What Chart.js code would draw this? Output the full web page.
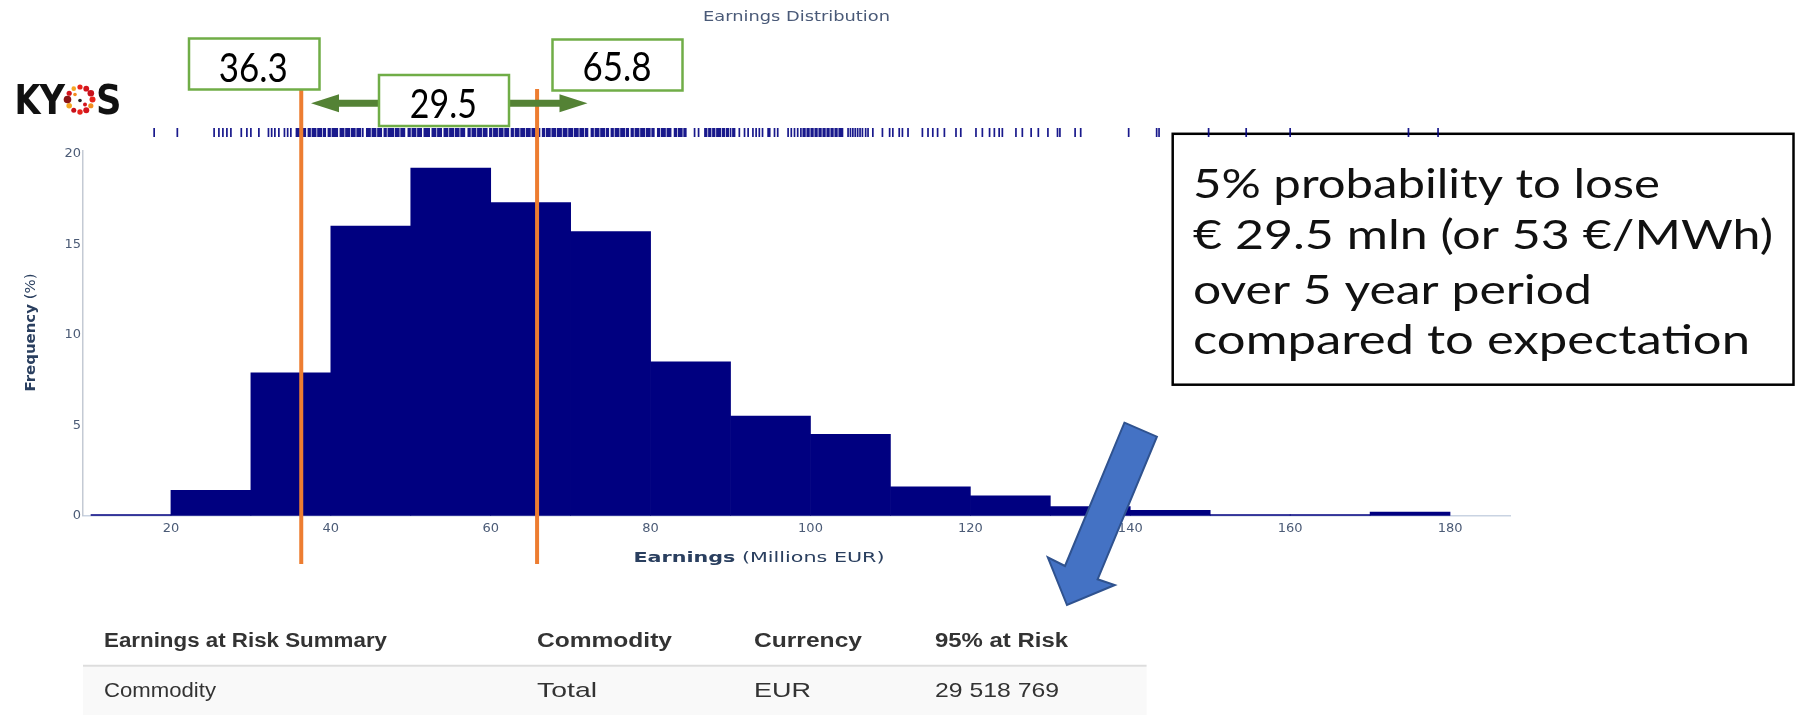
<!DOCTYPE html>
<html>
<head>
<meta charset="utf-8">
<title>Earnings Distribution</title>
<script src="https://cdn.jsdelivr.net/npm/chart.js@4.4.1/dist/chart.umd.min.js"></script>
<style>
  html, body { margin: 0; padding: 0; background: #fff; }
  #wrap { position: relative; width: 1795px; height: 715px; overflow: hidden; }
  #earningsChart { position: absolute; left: 0; top: 0; }
</style>
</head>
<body>
<div id="wrap"><canvas id="earningsChart" width="1795" height="715"></canvas></div>
<script>
// Histogram bins: lower edge of each bin (millions EUR) and share of simulations (%)
const binStarts = [10, 20, 30, 40, 50, 60, 70, 80, 90, 100, 110, 120, 130, 140, 150, 160, 170];
const frequency = [0, 1.4, 7.9, 16.0, 19.2, 17.3, 15.7, 8.5, 5.5, 4.5, 1.6, 1.1, 0.5, 0.3, 0, 0, 0.2];
const binWidth = 10;

// Individual simulated outcomes, drawn as rug marks above the histogram
const rugValues = [
    17.9, 20.8, 25.4, 26.0, 26.5, 27.0, 27.5, 28.8, 29.5, 30.0, 31.0, 32.2, 32.6, 33.0, 33.5, 34.2, 34.6, 35.0,
    35.7, 35.9, 36.1, 36.4, 36.6, 36.8, 37.2, 37.4, 37.7, 37.9, 38.1, 38.4, 38.6, 38.8, 39.1, 39.3, 39.7, 39.9,
    40.2, 40.4, 40.6, 40.8, 41.2, 41.4, 41.6, 41.9, 42.1, 42.3, 42.6, 42.8, 43.0, 43.3, 43.5, 43.7, 44.0, 44.5,
    44.7, 44.9, 45.2, 45.4, 45.6, 45.9, 46.1, 46.3, 46.7, 46.9, 47.2, 47.4, 47.6, 47.8, 48.1, 48.3, 48.5, 48.8,
    49.0, 49.2, 49.7, 49.9, 50.2, 50.4, 50.6, 50.9, 51.1, 51.3, 51.7, 51.9, 52.1, 52.3, 52.7, 52.9, 53.1, 53.4,
    53.6, 53.8, 54.2, 54.4, 54.6, 54.9, 55.1, 55.3, 55.6, 55.8, 56.0, 56.3, 56.5, 56.7, 57.2, 57.4, 57.7, 57.9,
    58.1, 58.4, 58.6, 58.8, 59.1, 59.3, 59.5, 59.9, 60.1, 60.4, 60.6, 60.8, 61.1, 61.3, 61.5, 61.8, 62.0, 62.2,
    62.6, 62.8, 63.1, 63.3, 63.5, 63.8, 64.0, 64.2, 64.5, 64.7, 64.9, 65.2, 65.4, 65.6, 65.9, 66.1, 66.5, 66.7,
    67.0, 67.2, 67.4, 67.7, 67.9, 68.1, 68.4, 68.6, 68.8, 69.1, 69.3, 69.5, 69.8, 70.0, 70.2, 70.5, 70.7, 70.9,
    71.2, 71.4, 71.6, 71.9, 72.1, 72.6, 72.8, 73.1, 73.3, 73.5, 73.8, 74.0, 74.2, 74.5, 74.7, 75.1, 75.3, 75.6,
    75.8, 76.0, 76.3, 76.5, 76.7, 77.0, 77.2, 77.6, 77.8, 78.1, 78.3, 78.5, 78.8, 79.0, 79.2, 79.5, 79.7, 79.9,
    80.2, 80.4, 80.9, 81.1, 81.4, 81.6, 81.8, 82.1, 82.3, 82.5, 83.0, 83.2, 83.5, 83.7, 83.9, 84.2, 84.4, 85.5,
    86.0, 86.8, 87.0, 87.3, 87.5, 87.8, 88.0, 88.3, 88.5, 88.7, 89.0, 89.2, 89.5, 89.7, 90.0, 90.3, 90.5, 91.1,
    91.75, 92.2, 92.8, 93.2, 93.6, 94.0, 94.7, 94.9, 95.5, 95.9, 97.2, 97.6, 98.0, 98.4, 98.8, 99.1, 99.3, 99.6,
    99.8, 100.1, 100.3, 100.6, 100.8, 101.1, 101.3, 101.6, 101.8, 102.1, 102.3, 102.6, 102.8, 103.1, 103.3, 103.6,
    103.8, 104.0, 104.7, 105.0, 105.3, 105.6, 105.9, 106.2, 106.5, 106.9, 107.2, 107.8, 109.0, 109.9, 110.3, 111.1,
    111.5, 112.2, 114.0, 114.7, 115.3, 115.9, 116.75, 118.2, 118.8, 120.7, 121.5, 122.4, 123.0, 123.6, 124.0, 125.7,
    126.5, 127.6, 128.5, 129.7, 130.9, 131.2, 133.1, 133.8, 139.8, 143.3, 143.6, 149.8, 154.5, 160.0, 174.8, 178.5
];

// Percentile markers (millions EUR)
const lowerPercentile = 36.3;
const upperPercentile = 65.8;

// Summary table and call-out text
const tableHeaders = ['Earnings at Risk Summary', 'Commodity', 'Currency', '95% at Risk'];
const tableRow = ['Commodity', 'Total', 'EUR', '29 518 769'];
const noteLines = [
    '5% probability to lose',
    '\u20ac 29.5 mln (or 53 \u20ac/MWh)',
    'over 5 year period',
    'compared to expectation'
];

const NAVY = '#000080';
const ORANGE = '#ED7D31';
const GREEN_BORDER = '#70AD47';
const GREEN_ARROW = '#548235';
const AXIS_TEXT = '#4b5b76';
const AXIS_TITLE = '#2a3f5f';

// Draw text squeezed/stretched horizontally so it spans the given width
function drawFitted(ctx, text, x, y, width, align) {
    const natural = ctx.measureText(text).width;
    ctx.save();
    ctx.translate(x, y);
    ctx.scale(width / natural, 1);
    ctx.textAlign = 'left';
    ctx.textBaseline = 'alphabetic';
    let start = 0;
    if (align === 'center') start = -natural / 2;
    if (align === 'right') start = -natural;
    ctx.fillText(text, start, 0);
    ctx.restore();
}

// Bold + regular text pair, e.g. "Earnings (Millions EUR)"
function drawMixedTitle(ctx, boldPart, normalPart, size, totalWidth) {
    ctx.font = `bold ${size}px "DejaVu Sans"`;
    const w1 = ctx.measureText(boldPart).width;
    ctx.font = `${size}px "DejaVu Sans"`;
    const w2 = ctx.measureText(normalPart).width;
    const sx = totalWidth / (w1 + w2);
    ctx.save();
    ctx.scale(sx, 1);
    const start = -(w1 + w2) / 2;
    ctx.textBaseline = 'middle';
    ctx.textAlign = 'left';
    ctx.font = `bold ${size}px "DejaVu Sans"`;
    ctx.fillText(boldPart, start, 0);
    ctx.font = `${size}px "DejaVu Sans"`;
    ctx.fillText(normalPart, start + w1, 0);
    ctx.restore();
}

function drawRug(ctx, xScale) {
    ctx.save();
    ctx.strokeStyle = 'rgba(0, 0, 128, 0.9)';
    ctx.lineWidth = 1.7;
    ctx.beginPath();
    rugValues.forEach(v => {
        const px = xScale.getPixelForValue(v);
        ctx.moveTo(px, 128);
        ctx.lineTo(px, 137);
    });
    ctx.stroke();
    ctx.restore();
}

function drawAxisTitles(ctx) {
    ctx.fillStyle = AXIS_TITLE;
    ctx.save();
    ctx.translate(759, 558.5);
    drawMixedTitle(ctx, 'Earnings', ' (Millions EUR)', 14, 251);
    ctx.restore();

    ctx.save();
    ctx.translate(31.7, 332.5);
    ctx.rotate(-Math.PI / 2);
    drawMixedTitle(ctx, 'Frequency', ' (%)', 14, 118);
    ctx.restore();
}

function drawChartTitle(ctx) {
    ctx.fillStyle = '#4a5a78';
    ctx.font = '14px "DejaVu Sans"';
    drawFitted(ctx, 'Earnings Distribution', 796.5, 20.5, 187, 'center');
}

function drawLabelBox(ctx, text, left, top, width, height, textLeft, baseline, textWidth) {
    ctx.fillStyle = '#ffffff';
    ctx.fillRect(left, top, width, height);
    ctx.strokeStyle = GREEN_BORDER;
    ctx.lineWidth = 2.5;
    ctx.strokeRect(left, top, width, height);
    ctx.fillStyle = '#000000';
    ctx.font = '400 40px Lato';
    drawFitted(ctx, text, textLeft, baseline, textWidth, 'left');
}

function drawDoubleArrow(ctx, x1, x2, y) {
    const shaft = 3.5, head = 9, headLen = 28;
    ctx.fillStyle = GREEN_ARROW;
    ctx.beginPath();
    ctx.moveTo(x1, y);
    ctx.lineTo(x1 + headLen, y - head);
    ctx.lineTo(x1 + headLen, y - shaft);
    ctx.lineTo(x2 - headLen, y - shaft);
    ctx.lineTo(x2 - headLen, y - head);
    ctx.lineTo(x2, y);
    ctx.lineTo(x2 - headLen, y + head);
    ctx.lineTo(x2 - headLen, y + shaft);
    ctx.lineTo(x1 + headLen, y + shaft);
    ctx.lineTo(x1 + headLen, y + head);
    ctx.closePath();
    ctx.fill();
}

function drawPercentileMarkers(ctx, xScale) {
    // vertical markers at the two percentiles
    ctx.save();
    ctx.strokeStyle = ORANGE;
    ctx.lineWidth = 4;
    [lowerPercentile, upperPercentile].forEach(v => {
        const px = xScale.getPixelForValue(v);
        ctx.beginPath();
        ctx.moveTo(px, 89);
        ctx.lineTo(px, 564);
        ctx.stroke();
    });

    drawDoubleArrow(ctx, 311, 587.5, 103.3);

    const spread = (upperPercentile - lowerPercentile).toFixed(1);
    drawLabelBox(ctx, String(lowerPercentile), 189, 38.5, 130.5, 51, 218.8, 81.7, 69);
    drawLabelBox(ctx, String(upperPercentile), 552.5, 39.5, 130, 51, 582.6, 80.5, 69);
    drawLabelBox(ctx, spread, 379, 75, 130, 51, 409.8, 118.3, 67);
    ctx.restore();
}

function drawLogo(ctx) {
    ctx.save();
    ctx.fillStyle = '#111111';
    ctx.font = 'bold 40px "DejaVu Sans"';
    drawFitted(ctx, 'K', 14.5, 114, 26, 'left');
    drawFitted(ctx, 'Y', 39.5, 114, 25.5, 'left');
    drawFitted(ctx, 'S', 96, 114, 25.5, 'left');

    // dotted "O"
    const cx = 80, cy = 99.5, r = 12.5;
    const dots = [
        [-90, 2.6, '#e8231b'], [-60, 2.9, '#d4141c'], [-30, 3.3, '#c8101a'], [0, 3.0, '#e8231b'],
        [30, 2.6, '#f28c1e'], [60, 3.0, '#d4141c'], [90, 2.7, '#e8231b'], [120, 2.5, '#c8101a'],
        [150, 2.8, '#f5a623'], [180, 3.8, '#8b1414'], [210, 2.6, '#d4141c'], [240, 2.3, '#f5a623']
    ];
    dots.forEach(([deg, size, color]) => {
        const a = deg * Math.PI / 180;
        ctx.fillStyle = color;
        ctx.beginPath();
        ctx.arc(cx + Math.cos(a) * r, cy + Math.sin(a) * r, size, 0, Math.PI * 2);
        ctx.fill();
    });
    ctx.fillStyle = '#f28c1e';
    ctx.beginPath(); ctx.arc(cx - 5, cy - 5, 1.8, 0, Math.PI * 2); ctx.fill();
    ctx.fillStyle = '#d4141c';
    ctx.beginPath(); ctx.arc(cx + 5, cy + 5, 2, 0, Math.PI * 2); ctx.fill();
    ctx.fillStyle = '#222222';
    ctx.beginPath(); ctx.arc(cx, cy + 1, 1.8, 0, Math.PI * 2); ctx.fill();
    ctx.restore();
}

function drawNoteBox(ctx) {
    ctx.save();
    ctx.fillStyle = '#ffffff';
    ctx.fillRect(1172.7, 133.8, 620.8, 250.9);
    ctx.strokeStyle = '#000000';
    ctx.lineWidth = 2.5;
    ctx.strokeRect(1172.7, 133.8, 620.8, 250.9);
    ctx.fillStyle = '#111111';
    ctx.font = '400 40px Lato';
    const baselines = [197.5, 249, 304, 354];
    const widths = [467, 580, 399, 557];
    noteLines.forEach((line, i) => drawFitted(ctx, line, 1193, baselines[i], widths[i], 'left'));
    ctx.restore();
}

function drawRiskArrow(ctx) {
    ctx.save();
    ctx.beginPath();
    ctx.moveTo(1124.4, 422.7);
    ctx.lineTo(1156.9, 436.7);
    ctx.lineTo(1097.6, 579.3);
    ctx.lineTo(1114.8, 585);
    ctx.lineTo(1067, 605);
    ctx.lineTo(1047.8, 557.3);
    ctx.lineTo(1065, 566);
    ctx.closePath();
    ctx.fillStyle = '#4472C4';
    ctx.fill();
    ctx.strokeStyle = '#2F528F';
    ctx.lineWidth = 2;
    ctx.stroke();
    ctx.restore();
}

function drawSummaryTable(ctx) {
    const left = 83, right = 1146.6;
    const colX = [104, 537, 754, 935];
    const headerWidths = [283, 135, 108, 133];
    const rowWidths = [112, 60, 57, 124];
    ctx.save();
    ctx.fillStyle = '#f9f9f9';
    ctx.fillRect(left, 667, right - left, 48);
    ctx.strokeStyle = '#dddddd';
    ctx.lineWidth = 2;
    ctx.beginPath();
    ctx.moveTo(left, 665.8);
    ctx.lineTo(right, 665.8);
    ctx.stroke();

    ctx.fillStyle = '#333333';
    ctx.font = 'bold 20px "Liberation Sans"';
    tableHeaders.forEach((h, i) => drawFitted(ctx, h, colX[i], 647, headerWidths[i], 'left'));
    ctx.font = '21px "Liberation Sans"';
    tableRow.forEach((c, i) => drawFitted(ctx, c, colX[i], 697, rowWidths[i], 'left'));
    ctx.restore();
}

const overlayPlugin = {
    id: 'earningsOverlay',
    beforeDatasetsDraw(chart) {
        // call-out box sits underneath the rug marks
        drawNoteBox(chart.ctx);
    },
    afterDatasetsDraw(chart) {
        const ctx = chart.ctx;
        const xScale = chart.scales.x;
        drawRug(ctx, xScale);
        drawAxisTitles(ctx);
        drawChartTitle(ctx);
        drawPercentileMarkers(ctx, xScale);
        drawLogo(ctx);
        drawRiskArrow(ctx);
        drawSummaryTable(ctx);
    }
};

function initializeEarningsChart() {
    const ctx = document.getElementById('earningsChart').getContext('2d');
    const tickFont = { family: 'DejaVu Sans', size: 13 };

    new Chart(ctx, {
        type: 'bar',
        data: {
            datasets: [{
                label: 'Frequency (%)',
                data: binStarts.map((start, i) => ({ x: start + binWidth / 2, y: frequency[i] })),
                backgroundColor: NAVY,
                borderWidth: 0,
                barPercentage: 1,
                categoryPercentage: 1,
                minBarLength: 1
            }]
        },
        options: {
            responsive: false,
            animation: false,
            devicePixelRatio: 1,
            layout: { padding: { top: 151, right: 285, left: 0, bottom: 0 } },
            plugins: {
                legend: { display: false },
                tooltip: { enabled: false }
            },
            scales: {
                x: {
                    type: 'linear',
                    min: 9,
                    max: 187.5,
                    offset: false,
                    grid: { display: false, drawTicks: false },
                    border: { color: '#c9d3e2', width: 1.5 },
                    ticks: { stepSize: 20, includeBounds: false, padding: 5, color: AXIS_TEXT, font: tickFont },
                    afterFit: scale => { scale.height = 199.3; }
                },
                y: {
                    min: 0,
                    max: 20.15,
                    grid: { display: false, drawTicks: false },
                    border: { color: '#c4cad4', width: 1.5 },
                    ticks: { stepSize: 5, includeBounds: false, padding: 2, color: AXIS_TEXT, font: tickFont },
                    afterFit: scale => { scale.width = 83; }
                }
            }
        },
        plugins: [overlayPlugin]
    });
}

document.addEventListener('DOMContentLoaded', function() {
    initializeEarningsChart();
});
</script>
</body>
</html>
